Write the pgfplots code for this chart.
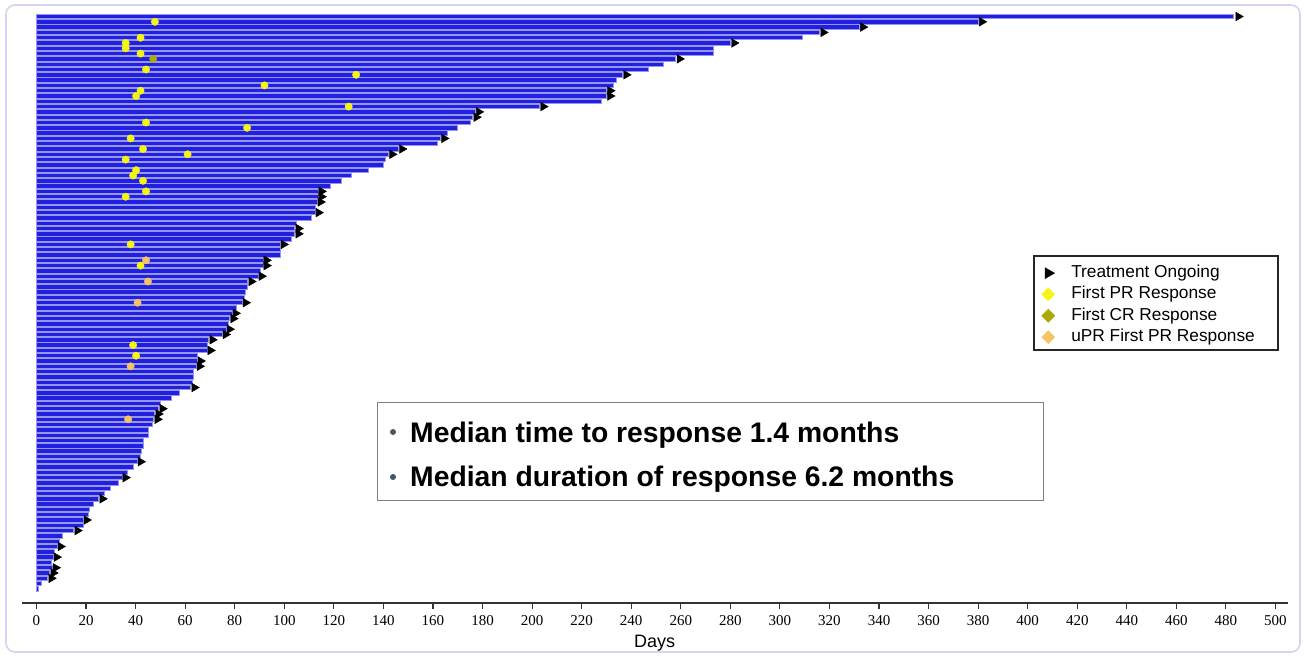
\documentclass[border=0pt]{standalone}
\usepackage{fontspec}
\setmainfont{Liberation Sans}
\newfontfamily\serifnum{Liberation Serif}
\usepackage{pgfplots}
\usepackage{pgfplotstable}
\pgfplotsset{compat=1.18}
\definecolor{barblue}{RGB}{32,32,222}
\definecolor{baredge}{RGB}{150,150,240}
\definecolor{pryellow}{RGB}{245,245,20}
\definecolor{crolive}{RGB}{170,170,0}
\definecolor{upror}{RGB}{245,195,100}
\definecolor{framec}{RGB}{212,212,240}
\definecolor{bulletc}{RGB}{70,85,100}

% bar lengths (days), patient index (negative = from top)
\pgfplotstableread{
d i
483 -1
380 -2
332 -3
316 -4
309 -5
280 -6
273 -7
273 -8
258 -9
253 -10
247 -11
236.5 -12
234 -13
233 -14
230 -15
230 -16
228 -17
203 -18
177 -19
176 -20
175 -21
170 -22
166 -23
163 -24
162 -25
146 -26
142 -27
141 -28
140 -29
134 -30
127 -31
123 -32
118.5 -33
113.6 -34
113.6 -35
113.2 -36
112.4 -37
112.4 -38
111 -39
105 -40
104.3 -41
104.3 -42
103 -43
98.3 -44
98.3 -45
98.3 -46
91.4 -47
91.4 -48
90.2 -49
89.4 -50
85.3 -51
85 -52
84.5 -53
84.1 -54
83 -55
80.9 -56
78.9 -57
78 -58
77.3 -59
76.5 -60
74.9 -61
69.6 -62
68.8 -63
68.8 -64
64.8 -65
64.8 -66
64.4 -67
63.2 -68
63.2 -69
62.8 -70
62.3 -71
57.9 -72
54.3 -73
50.2 -74
49.4 -75
47.8 -76
47.4 -77
47 -78
45 -79
45 -80
43 -81
43 -82
42.2 -83
41.8 -84
40.6 -85
39 -86
36.9 -87
34.5 -88
32.9 -89
29.7 -90
27.6 -91
25.2 -92
22.8 -93
21.2 -94
20.8 -95
18.8 -96
18.8 -97
15.1 -98
10.3 -99
9.1 -100
8.3 -101
7.1 -102
6.7 -103
5.9 -104
6.3 -105
5.4 -106
4.6 -107
2.2 -108
1.0 -109
}\bardata

% treatment ongoing arrows
\pgfplotstableread{
d i
485 -1
381.5 -2
333.5 -3
317.5 -4
281.5 -6
259.5 -9
238 -12
231.5 -15
231.5 -16
204.5 -18
178.5 -19
177.5 -20
164.5 -24
147.5 -26
143.5 -27
115 -34
115 -35
114.6 -36
113.8 -38
105.7 -41
105.7 -42
99.7 -44
92.8 -47
92.8 -48
90.8 -50
86.7 -51
84.4 -55
80.3 -57
79.4 -58
77.9 -60
76.3 -61
71 -62
70.2 -64
66.2 -66
65.8 -67
63.7 -71
50.8 -75
49.2 -76
48.8 -77
42 -85
35.9 -88
26.6 -92
20.2 -96
16.5 -98
9.7 -101
8.1 -103
7.7 -105
6.8 -106
6.0 -107
}\ongoing

% first PR response
\pgfplotstableread{
d i
47.8 -2
42 -5
36 -6
36 -7
42 -8
44.2 -11
129 -12
92 -14
42 -15
40.2 -16
126 -18
44.2 -21
85 -22
38 -24
43 -26
61 -27
36 -28
40.2 -30
39 -31
43 -32
44.2 -34
36 -35
38 -44
42 -48
39 -63
40.2 -65
}\prdata

% first CR response
\pgfplotstableread{
d i
47.1 -9
}\crdata

% uPR first PR response
\pgfplotstableread{
d i
44.2 -47
45 -51
40.8 -55
38 -67
37 -77
}\uprdata

\pgfplotsset{legimg/.style={legend image code/.code={\pgfpathrectangle{\pgfpoint{0pt}{-5pt}}{\pgfpoint{31pt}{10pt}}\pgfusepath{}\draw[##1] plot coordinates {(10pt,0pt)};}}}

\begin{document}
\begin{tikzpicture}
\path[use as bounding box] (0,0) rectangle (1304pt,657pt);
\draw[framec, line width=1.6pt, rounded corners=9pt] (6pt,5pt) rectangle (1300pt,652pt);
\begin{axis}[
  at={(21.6pt,54pt)}, anchor=south west,
  scale only axis, width=1266.3pt, height=591.8pt,
  xmin=-6, xmax=505, ymin=-111.66, ymax=0,
  axis x line*=bottom, axis y line=none,
  axis line style={black!80, line width=1.3pt},
  xtick={0,20,...,500},
  tick align=outside, major tick length=6pt,
  every tick/.style={black!80, line width=1.1pt},
  xticklabel style={font=\serifnum\fontsize{15}{15}\selectfont, yshift=-3pt},
  /pgf/number format/assume math mode=true,
  xlabel={Days},
  xlabel style={font=\fontsize{18}{18}\selectfont, at={(axis description cs:0.5,0)}, anchor=center, yshift=-40pt},
  clip=false,
  legend cell align=left,
  legend style={at={(0.8027,0.5757)}, anchor=north west, draw=none, fill=none,
    font=\fontsize{17.3}{19}\selectfont, inner xsep=0pt, inner ysep=0pt, row sep=0pt,
    nodes={inner ysep=2.4pt, text height=12.5pt, text depth=4pt}},
]
\addlegendimage{only marks, mark=triangle*, mark size=6.3pt, mark options={rotate=-90, fill=black, draw=black}, legimg}
\addlegendentry{Treatment Ongoing}
\addlegendimage{only marks, mark=square*, mark size=4.6pt, mark options={rotate=45, fill=pryellow, draw=pryellow}, legimg}
\addlegendentry{First PR Response}
\addlegendimage{only marks, mark=square*, mark size=4.6pt, mark options={rotate=45, fill=crolive, draw=crolive}, legimg}
\addlegendentry{First CR Response}
\addlegendimage{only marks, mark=square*, mark size=4.6pt, mark options={rotate=45, fill=upror, draw=upror}, legimg}
\addlegendentry{uPR First PR Response}

\addplot[forget plot, xbar, bar width=4.4pt, bar shift=0pt, fill=barblue, draw=baredge, line width=0.9pt] table[x=d, y=i] {\bardata};
\addplot[forget plot, only marks, mark=triangle*, mark size=5pt, mark options={rotate=-90, fill=black, draw=black}] table[x=d, y=i] {\ongoing};
\addplot[forget plot, only marks, mark=*, mark size=3.7pt, mark options={fill=pryellow, draw=pryellow}] table[x=d, y=i] {\prdata};
\addplot[forget plot, only marks, mark=*, mark size=3.7pt, mark options={fill=crolive, draw=crolive}] table[x=d, y=i] {\crdata};
\addplot[forget plot, only marks, mark=*, mark size=3.7pt, mark options={fill=upror, draw=upror}] table[x=d, y=i] {\uprdata};
\end{axis}
\draw[black!85, line width=1.2pt] (1034pt,307pt) rectangle (1278pt,401pt);
\draw[black!50, line width=1pt] (377pt,157pt) rectangle (1043pt,255pt);
\fill[bulletc] (393pt,225pt) circle (3pt);
\fill[bulletc] (393pt,180pt) circle (3pt);
\node[anchor=base west, inner sep=0pt, font=\bfseries\fontsize{28.3}{30}\selectfont] at (410pt,215pt) {Median time to response 1.4 months};
\node[anchor=base west, inner sep=0pt, font=\bfseries\fontsize{28.3}{30}\selectfont] at (410pt,171pt) {Median duration of response 6.2 months};
\end{tikzpicture}
\end{document}
